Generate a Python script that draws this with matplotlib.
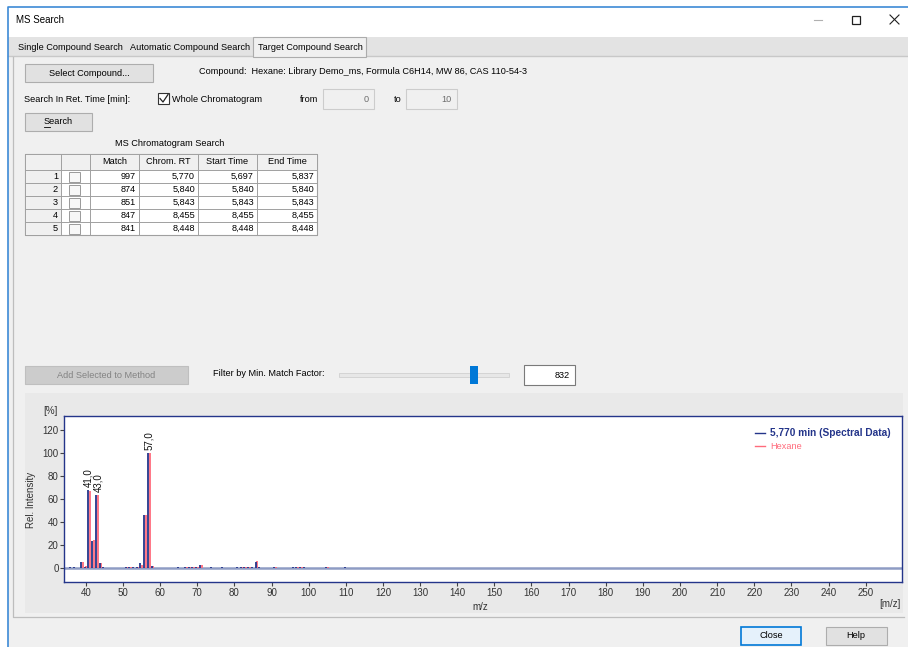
import numpy as np
import matplotlib.pyplot as plt
from matplotlib.patches import Rectangle

plt.rcParams['font.family'] = ['Liberation Sans', 'DejaVu Sans']

# mass spectrum at 5,770 min (blue) vs library spectrum of hexane (red)
mz = [36, 37, 39, 40, 41, 42, 43, 44, 45, 51, 52, 53, 54, 55, 56, 57, 58,
      65, 67, 68, 69, 70, 71, 74, 77, 81, 82, 83, 84, 85, 86, 87, 91,
      96, 97, 98, 99, 105, 110]
spectral = [0.5, 0.5, 4.7, 0.5, 67.5, 23.0, 63.2, 4.5, 0.5, 0.8, 0.8, 0.8, 1.0, 3.8, 46.0, 100.0, 1.5,
            0.5, 0.8, 0.8, 0.8, 1.0, 2.2, 0.6, 0.5, 0.5, 1.0, 1.0, 0.8, 0.5, 4.7, 0.6, 0.5,
            0.5, 0.8, 0.8, 0.5, 0.5, 0.5]
hexane = [0.0, 0.0, 4.7, 1.2, 66.7, 23.9, 63.2, 4.0, 0.0, 0.8, 0.8, 0.0, 1.0, 2.5, 46.0, 100.0, 1.5,
          0.0, 0.8, 0.8, 0.8, 1.0, 2.3, 0.0, 0.0, 0.0, 1.0, 1.0, 0.8, 0.0, 5.5, 0.0, 1.0,
          0.0, 1.0, 0.5, 0.0, 1.0, 0.0]
labelled = [41, 43, 57]
xticks = list(range(40, 251, 10))
yticks = list(range(0, 121, 20))

# search results table
headers = ['Match', 'Chrom. RT', 'Start Time', 'End Time']
match = ['997', '874', '851', '847', '841']
chrom_rt = ['5,770', '5,840', '5,843', '8,455', '8,448']
start_time = ['5,697', '5,840', '5,843', '8,455', '8,448']
end_time = ['5,837', '5,840', '5,843', '8,455', '8,448']

tabs = ['Single Compound Search', 'Automatic Compound Search', 'Target Compound Search']
compound = 'Compound:  Hexane: Library Demo_ms, Formula C6H14, MW 86, CAS 110-54-3'
min_match = '832'

W, H = 908, 647
FS = 6.6
CFS = 7.0
NAVY = '#24358a'
RED = '#ff6b7c'

fig = plt.figure(figsize=(W / 100, H / 100), dpi=100)
fig.patch.set_facecolor('white')
ui = fig.add_axes([0, 0, 1, 1], zorder=0)
ui.set_xlim(0, W)
ui.set_ylim(H, 0)
ui.axis('off')


def box(x0, y0, x1, y1, fc='none', ec='none', lw=1, z=1):
    ui.add_patch(Rectangle((x0, y0), x1 - x0, y1 - y0, fc=fc, ec=ec, lw=lw, zorder=z))


def txt(x, y, s, ha='left', size=FS, color='#000000', **kw):
    ui.text(x, y, s, ha=ha, va='center', fontsize=size, color=color, zorder=5, **kw)


# window frame and title
box(0, 0, W, H, fc='white')
txt(16, 20, 'MS Search', size=7)
ui.plot([814, 822], [20, 20], color='#b0b0b0', lw=0.8)
box(852, 16, 860, 24, ec='#202020', lw=0.9, z=3)
ui.plot([890, 899], [15, 24], color='#202020', lw=0.8)
ui.plot([890, 899], [24, 15], color='#202020', lw=0.8)

# tab strip and body
box(8, 37, W, 56, fc='#e3e3e3')
ui.plot([8, W], [56, 56], color='#c8c8c8', lw=1)
box(8, 56, W, H, fc='#f0f0f0')
box(253, 37, 366, 57, fc='#f0f0f0', ec='#acacac', lw=0.8, z=2)
for x, s in zip([18, 130, 258], tabs):
    txt(x, 47, s)
ui.plot([13, 13, 904], [57, 617, 617], color='#bdbdbd', lw=0.9, zorder=2)
ui.plot([8, 8, W], [H, 7, 7], color='#3d8ad6', lw=1.2, zorder=6)

# controls
box(25, 64, 153, 82, fc='#e1e1e1', ec='#adadad', lw=0.8)
txt(89, 73, 'Select Compound...', ha='center')
txt(199, 72, compound)
txt(24, 99, 'Search In Ret. Time [min]:')
box(158, 93, 169, 104, fc='white', ec='#333333', lw=0.8)
ui.plot([160, 163, 168], [98.5, 102, 94.5], color='#222222', lw=0.9, zorder=4)
txt(172, 99, 'Whole Chromatogram')
txt(300, 99, 'from')
box(323, 89, 374, 109, fc='#f0f0f0', ec='#cccccc', lw=0.8)
txt(369, 99, '0', ha='right', color='#6d6d6d')
txt(394, 99, 'to')
box(406, 89, 457, 109, fc='#f0f0f0', ec='#cccccc', lw=0.8)
txt(452, 99, '10', ha='right', color='#6d6d6d')
box(25, 113, 92, 131, fc='#e1e1e1', ec='#adadad', lw=0.8)
txt(58, 122, 'Search', ha='center')
ui.plot([44, 50], [127, 127], color='black', lw=0.6, zorder=5)

# table
txt(170, 144, 'MS Chromatogram Search', ha='center')
col_x = [25, 61, 90, 139, 198, 257, 317]
row_y = [154, 170] + [170 + 13 * (i + 1) for i in range(len(match))]
box(col_x[0], row_y[0], col_x[-1], row_y[-1], fc='white', ec='#a0a0a0', lw=0.8)
box(col_x[0], row_y[0], col_x[-1], row_y[1], fc='#f0f0f0')
box(col_x[0], row_y[0], col_x[1], row_y[-1], fc='#f0f0f0')
for x in col_x:
    ui.plot([x, x], [row_y[0], row_y[-1]], color='#a0a0a0', lw=0.7, zorder=2)
for y in row_y:
    ui.plot([col_x[0], col_x[-1]], [y, y], color='#a0a0a0', lw=0.7, zorder=2)
for j, h in enumerate(headers):
    txt((col_x[j + 2] + col_x[j + 3]) / 2, 162, h, ha='center')
for i, row in enumerate(zip(match, chrom_rt, start_time, end_time)):
    yc = (row_y[i + 1] + row_y[i + 2]) / 2
    txt(col_x[1] - 3, yc, str(i + 1), ha='right')
    box(69, yc - 5, 80, yc + 5, fc='#f7f7f7', ec='#9a9a9a', lw=0.7, z=3)
    for j, v in enumerate(row):
        txt(col_x[j + 3] - 3, yc, v, ha='right')

# filter row
box(25, 366, 188, 384, fc='#cccccc', ec='#bfbfbf', lw=0.8)
txt(106, 375, 'Add Selected to Method', ha='center', color='#838383')
txt(213, 373, 'Filter by Min. Match Factor:')
box(339, 373, 509, 377, fc='#e7e7e7', ec='#d4d4d4', lw=0.7)
box(470, 366, 478, 384, fc='#0078d7', z=3)
box(524, 365, 575, 385, fc='white', ec='#7a7a7a', lw=0.8)
txt(570, 375, min_match, ha='right')

# chart panel
box(25, 393, 903, 613, fc='#e9e9e9')
txt(50, 411, '[%]', ha='center', color='#333333', size=CFS)
ui.text(31, 500, 'Rel. Intensity', rotation=90, ha='center', va='center',
        fontsize=CFS, color='#333333', zorder=5)
txt(480, 607, 'm/z', ha='center', color='#333333', size=CFS)
txt(890, 604, '[m/z]', ha='center', color='#333333', size=CFS)

# bottom buttons
box(741, 627, 801, 645, fc='#e5f1fb', ec='#0078d7', lw=1.2)
txt(771, 636, 'Close', ha='center')
box(826, 627, 887, 645, fc='#e1e1e1', ec='#adadad', lw=0.8)
txt(856, 636, 'Help', ha='center')

# spectrum plot
ax = fig.add_axes([64.3 / W, 1 - 582.3 / H, 837.4 / W, 166.6 / H], zorder=2)
ax.set_facecolor('white')
ax.set_xlim(34.2, 259.7)
ax.set_ylim(-12.8, 132.8)
mz_arr = np.array(mz, dtype=float)
ax.axhline(0, color='#8e9cc4', lw=1.8, zorder=1)
ax.vlines(mz_arr - 0.3, 0, spectral, color=NAVY, lw=1.3, zorder=3)
ax.vlines(mz_arr + 0.15, 0, hexane, color=RED, lw=1.3, zorder=2)
label_dx = [-0.2, 1.6, 0.8]
for m, dx in zip(labelled, label_dx):
    v = spectral[mz.index(m)]
    ax.annotate(f'{m:.1f}'.replace('.', ','), xy=(m - 0.3, v), xytext=(dx, 2.5),
                textcoords='offset points', rotation=90, ha='center', va='bottom',
                fontsize=CFS, color='#111111')
ax.set_xticks(xticks)
ax.set_yticks(yticks)
ax.tick_params(direction='out', length=3, width=0.8, color='#444444',
               labelsize=CFS, labelcolor='#333333', pad=1)
for sp in ax.spines.values():
    sp.set_color(NAVY)
    sp.set_linewidth(1)

# legend
ax.plot([0.8245, 0.837], [0.895, 0.895], transform=ax.transAxes, color=NAVY, lw=1)
ax.text(0.843, 0.895, '5,770 min (Spectral Data)', transform=ax.transAxes,
        fontsize=7.3, fontweight='bold', color=NAVY, va='center')
ax.plot([0.8245, 0.837], [0.818, 0.818], transform=ax.transAxes, color=RED, lw=1)
ax.text(0.843, 0.818, 'Hexane', transform=ax.transAxes,
        fontsize=FS, color=RED, va='center')

fig.savefig('out.png', dpi=100)
